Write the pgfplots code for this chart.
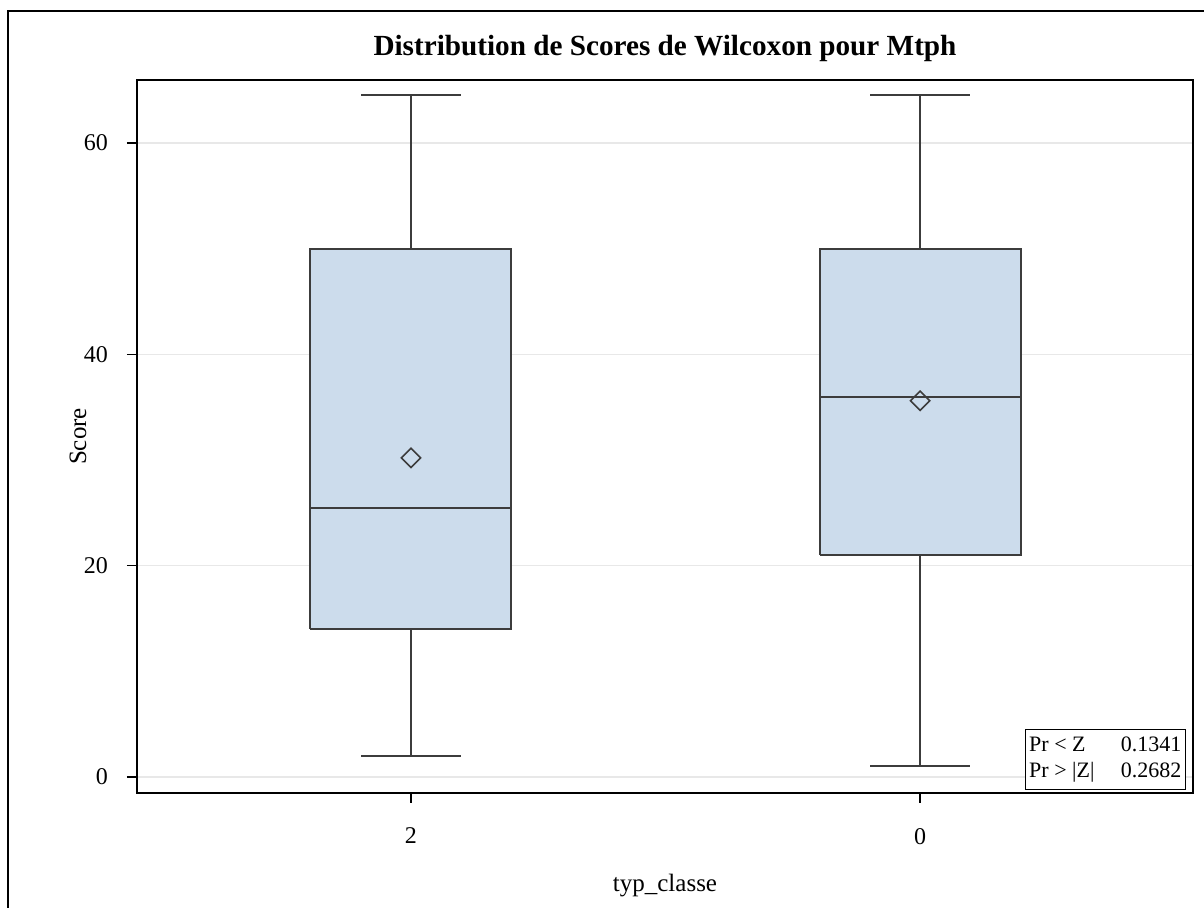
\documentclass[border=0pt]{standalone}
\usepackage{pgfplots}
\pgfplotsset{compat=1.18}
\usepackage{fontspec}
\setmainfont{Liberation Serif}
\definecolor{boxfill}{RGB}{204,220,236}
\definecolor{boxline}{RGB}{60,60,60}
\definecolor{gridc}{RGB}{232,232,232}
\begin{document}
\begin{tikzpicture}
\useasboundingbox (0,0) rectangle (602pt,454pt);
\draw[line width=1pt] (4pt,-5pt) -- (4pt,448.5pt) -- (610pt,448.5pt);
\begin{axis}[
  at={(68.5pt,57.5pt)}, anchor=south west,
  scale only axis, width=528pt, height=356.5pt,
  xmin=-0.538, xmax=1.536, ymin=-1.51, ymax=65.96,
  xtick={0,1}, xticklabels={2,0},
  ytick={0,20,40,60},
  tick align=outside, tick pos=left, major tick length=5pt,
  ymajorgrids, grid style={gridc, line width=0.6pt},
  axis line style={line width=1pt, black},
  every tick/.style={black, line width=0.8pt},
  /pgf/number format/assume math mode=true,
  tick label style={font=\fontsize{12}{14}\selectfont},
  xticklabel shift=9pt,
  yticklabel shift=6pt,
  title={Distribution de Scores de Wilcoxon pour Mtph},
  title style={at={(axis description cs:0.5,1.0365)}, anchor=center, yshift=-3.5pt, font=\fontsize{14.6}{17}\selectfont\bfseries},
  xlabel={typ\_classe},
  xlabel style={at={(axis description cs:0.5,-0.130)}, anchor=center, font=\fontsize{12.5}{15}\selectfont},
  ylabel={Score},
  ylabel style={at={(axis description cs:-0.0559,0.5)}, anchor=center, rotate=0, font=\fontsize{12.5}{15}\selectfont},
  every axis plot/.append style={line width=1pt},
]
% category "2" at x=0: whiskers 2 / 64.5, quartiles 14 / 50, median 25.5, mean 30.2
\addplot[draw=boxline, fill=boxfill] coordinates {(-0.1975,14) (0.1975,14) (0.1975,50) (-0.1975,50) (-0.1975,14)};
\addplot[boxline] coordinates {(-0.1975,25.5) (0.1975,25.5)};
\addplot[boxline] coordinates {(0,50) (0,64.5)};
\addplot[boxline] coordinates {(0,14) (0,2)};
\addplot[boxline] coordinates {(-0.098,64.5) (0.098,64.5)};
\addplot[boxline] coordinates {(-0.098,2) (0.098,2)};
% category "0" at x=1: whiskers 1 / 64.5, quartiles 21 / 50, median 36, mean 35.6
\addplot[draw=boxline, fill=boxfill] coordinates {(0.8025,21) (1.1975,21) (1.1975,50) (0.8025,50) (0.8025,21)};
\addplot[boxline] coordinates {(0.8025,36) (1.1975,36)};
\addplot[boxline] coordinates {(1,50) (1,64.5)};
\addplot[boxline] coordinates {(1,21) (1,1)};
\addplot[boxline] coordinates {(0.902,64.5) (1.098,64.5)};
\addplot[boxline] coordinates {(0.902,1) (1.098,1)};
% means
\addplot[only marks, mark=square, mark size=3.4pt, mark options={rotate=45, draw=boxline, fill=none, line width=0.8pt}] coordinates {(0,30.2) (1,35.6)};
\node[draw, line width=0.7pt, anchor=south east, inner sep=2pt, fill=white, font=\fontsize{11}{13}\selectfont] at (axis description cs:0.9934,0.0042) {\begin{tabular}{@{}l@{\hspace{1.2em}}r@{}}Pr < Z & 0.1341\\ Pr > |Z| & 0.2682\end{tabular}};
\end{axis}
\end{tikzpicture}
\end{document}
